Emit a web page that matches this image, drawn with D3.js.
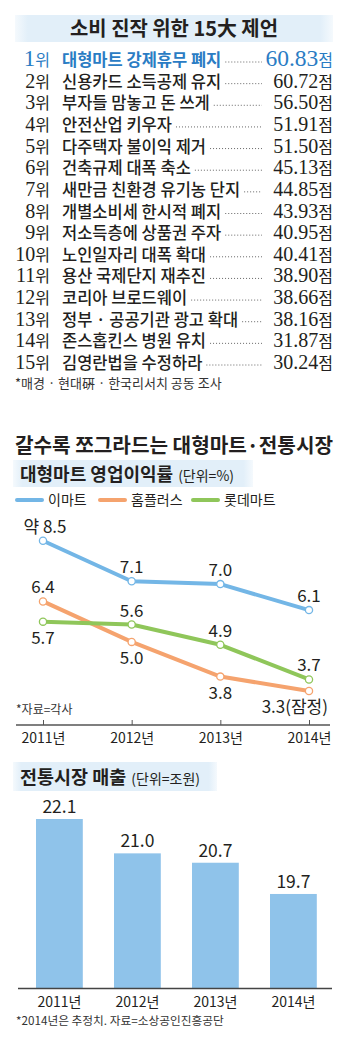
<!DOCTYPE html>
<html>
<head>
<meta charset="utf-8">
<script src="https://cdn.jsdelivr.net/npm/d3@7"></script>
<style>
  html, body { margin: 0; padding: 0; background: #fff; }
  svg { display: block; }
</style>
</head>
<body>
<svg id="chart" width="357" height="1044"></svg>
<script>
// ---------- DATA ----------
const listTitle = "소비 진작 위한 15大 제언";
const ranks = [1,2,3,4,5,6,7,8,9,10,11,12,13,14,15];
const proposals = [
  "대형마트 강제휴무 폐지",
  "신용카드 소득공제 유지",
  "부자들 맘놓고 돈 쓰게",
  "안전산업 키우자",
  "다주택자 불이익 제거",
  "건축규제 대폭 축소",
  "새만금 친환경 유기농 단지",
  "개별소비세 한시적 폐지",
  "저소득층에 상품권 주자",
  "노인일자리 대폭 확대",
  "용산 국제단지 재추진",
  "코리아 브로드웨이",
  "정부 · 공공기관 광고 확대",
  "존스홉킨스 병원 유치",
  "김영란법을 수정하라"
];
const scores = [60.83,60.72,56.50,51.91,51.50,45.13,44.85,43.93,40.95,40.41,38.90,38.66,38.16,31.87,30.24];
const listNote = "*매경 · 현대硏 · 한국리서치 공동 조사";

const section2Title = "갈수록 쪼그라드는 대형마트·전통시장";
const lineTitle = "대형마트 영업이익률";
const lineUnit = "(단위=%)";
const years = ["2011년","2012년","2013년","2014년"];
const seriesNames = ["이마트","홈플러스","롯데마트"];
const emart = [8.5, 7.1, 7.0, 6.1];
const homeplus = [6.4, 5.0, 3.8, 3.3];
const lotte = [5.7, 5.6, 4.9, 3.7];
const emartLabels = ["약 8.5","7.1","7.0","6.1"];
const homeplusLabels = ["6.4","5.0","3.8","3.3(잠정)"];
const lotteLabels = ["5.7","5.6","4.9","3.7"];
const lineNote = "*자료=각사";

const barTitle = "전통시장 매출";
const barUnit = "(단위=조원)";
const marketSales = [22.1, 21.0, 20.7, 19.7];
const barNote = "*2014년은 추정치. 자료=소상공인진흥공단";

// ---------- STYLE ----------
const KR = "'Noto Sans CJK KR', 'Noto Sans', sans-serif";
const SERIF = "'Liberation Serif', 'DejaVu Serif', serif";
const NARROW = "'Liberation Sans Narrow', 'Noto Sans CJK KR', sans-serif";
const INK = "#231f20";
const HILITE = "#2a7cc4";
const colors = ["#73b6e6", "#f5a36e", "#8fc65a"];
const barColor = "#8fc3ea";
const bandColor = "#e2eff9";

const svg = d3.select("#chart");
const defs = svg.append("defs");
function bandGradient(id) {
  const g = defs.append("linearGradient").attr("id", id).attr("x1", "0").attr("x2", "1");
  [[0, 0.35], [0.04, 1], [0.96, 1], [1, 0.35]].forEach(([o, a]) =>
    g.append("stop").attr("offset", o).attr("stop-color", bandColor).attr("stop-opacity", a));
}
bandGradient("bandG");

// ---------- SECTION 1: ranked list ----------
svg.append("rect").attr("x", 15).attr("y", 15).attr("width", 318).attr("height", 27).attr("fill", "url(#bandG)");
svg.append("text").attr("x", 70).attr("y", 36)
  .attr("font-family", KR).attr("font-size", 20).attr("font-weight", 700).attr("fill", INK)
  .attr("textLength", 208).attr("lengthAdjust", "spacingAndGlyphs")
  .text(listTitle);

const yRow = d3.scalePoint().domain(ranks).range([60, 363]);
const rows = svg.append("g").selectAll("g").data(ranks).join("g")
  .attr("transform", d => `translate(0,${yRow(d) + 6})`);

rows.each(function(r, i) {
  const g = d3.select(this);
  const top = r === 1;
  const col = top ? HILITE : INK;
  const rt = g.append("text").attr("x", 50).attr("text-anchor", "end").attr("fill", col);
  rt.append("tspan").attr("font-family", SERIF).attr("font-size", top ? 23 : 20).text(r);
  rt.append("tspan").attr("font-family", KR).attr("font-size", 16).text("위");

  const pt = g.append("text").attr("x", 62).attr("fill", col)
    .attr("font-family", KR).attr("font-size", 16.5).attr("font-weight", top ? 700 : 500)
    .text(proposals[i]);
  const w = pt.node().getComputedTextLength();

  g.append("line").attr("x1", 62 + w + 4).attr("x2", 262).attr("y1", -4).attr("y2", -4)
    .attr("stroke", "#666").attr("stroke-width", 1).attr("stroke-dasharray", "1,2");

  const vt = g.append("text").attr("x", 333).attr("text-anchor", "end").attr("fill", col);
  vt.append("tspan").attr("font-family", SERIF).attr("font-size", top ? 23.5 : 20)
    .text(scores[i].toFixed(2));
  vt.append("tspan").attr("font-family", KR).attr("font-size", 16).text("점");
});

svg.append("text").attr("x", 15).attr("y", 388).attr("font-family", KR).attr("font-size", 13)
  .attr("fill", "#333").text(listNote);

// ---------- SECTION 2: line chart ----------
svg.append("text").attr("x", 15).attr("y", 453).attr("font-family", KR).attr("font-size", 20)
  .attr("font-weight", 700).attr("fill", INK)
  .attr("textLength", 318).attr("lengthAdjust", "spacingAndGlyphs")
  .text(section2Title);

svg.append("rect").attr("x", 13).attr("y", 460).attr("width", 240).attr("height", 27).attr("fill", "url(#bandG)");
const lt = svg.append("text").attr("x", 20).attr("y", 481).attr("fill", INK).attr("font-family", KR);
lt.append("tspan").attr("font-size", 18).attr("font-weight", 700).text(lineTitle);
lt.append("tspan").attr("font-size", 14).attr("dx", 5).text(lineUnit);

// legend
const legX = [17, 100, 193];
const leg = svg.append("g").selectAll("g").data(seriesNames).join("g")
  .attr("transform", (d, i) => `translate(${legX[i]},500)`);
leg.append("line").attr("x1", 0).attr("x2", 25).attr("stroke", (d, i) => colors[i])
  .attr("stroke-width", 4).attr("stroke-linecap", "round");
leg.append("text").attr("x", 31).attr("y", 5).attr("font-family", KR).attr("font-size", 14)
  .attr("fill", INK).text(d => d);

const xL = d3.scalePoint().domain(years).range([43, 309]);
const yL = d3.scaleLinear().domain([0, 10]).range([786.4, 497.4]);

const series = [
  { vals: emart, labels: emartLabels, place: ["up","up","up","up"] },
  { vals: homeplus, labels: homeplusLabels, place: ["up","down","down","down"] },
  { vals: lotte, labels: lotteLabels, place: ["down","up","up","up"] }
];
const lineGen = d3.line().x((d, i) => xL(years[i])).y(d => yL(d));

// axis
const axisY = 725;
svg.append("line").attr("x1", 16).attr("x2", 330).attr("y1", axisY).attr("y2", axisY)
  .attr("stroke", "#555").attr("stroke-width", 1.5);
const axL = svg.append("g").attr("transform", `translate(0,${axisY})`)
  .call(d3.axisBottom(xL).tickSizeInner(-5).tickSizeOuter(0).tickPadding(8));
axL.select(".domain").remove();
axL.selectAll(".tick line").attr("stroke", "#555");
axL.selectAll(".tick text").attr("font-family", NARROW).attr("font-size", 14).attr("fill", INK);

svg.append("text").attr("x", 16).attr("y", 714).attr("font-family", KR).attr("font-size", 12)
  .attr("fill", "#333").text(lineNote);

series.forEach((s, si) => {
  svg.append("path").datum(s.vals).attr("d", lineGen).attr("fill", "none")
    .attr("stroke", colors[si]).attr("stroke-width", 4).attr("stroke-linejoin", "round");
});
series.forEach((s, si) => {
  svg.append("g").selectAll("circle").data(s.vals).join("circle")
    .attr("cx", (d, i) => xL(years[i])).attr("cy", d => yL(d)).attr("r", 3.6)
    .attr("fill", "#fff").attr("stroke", colors[si]).attr("stroke-width", 1.3);
  svg.append("g").selectAll("text").data(s.vals).join("text")
    .attr("x", (d, i) => {
      const x = xL(years[i]);
      if (s.labels[i].length > 5) return x + 19;
      return x + (s.labels[i].startsWith("약") ? 2 : 0);
    })
    .attr("y", (d, i) => yL(d) + (s.place[i] === "up" ? -8 : 22))
    .attr("text-anchor", (d, i) => s.labels[i].length > 5 ? "end" : "middle")
    .attr("font-family", NARROW).attr("font-size", 17).attr("fill", INK)
    .text((d, i) => s.labels[i]);
});

// ---------- SECTION 3: bar chart ----------
svg.append("rect").attr("x", 13).attr("y", 762).attr("width", 204).attr("height", 29).attr("fill", "url(#bandG)");
const bt = svg.append("text").attr("x", 20).attr("y", 784).attr("fill", INK).attr("font-family", KR);
bt.append("tspan").attr("font-size", 18.5).attr("font-weight", 700).text(barTitle);
bt.append("tspan").attr("font-size", 14).attr("dx", 5).text(barUnit);

const xB = d3.scaleBand().domain(years).range([16.5, 336.3]).paddingInner(0.4).paddingOuter(0.25);
const yB = d3.scaleLinear().domain([16.68, 22.1]).range([988.3, 819]);

svg.append("g").selectAll("rect").data(marketSales).join("rect")
  .attr("x", (d, i) => xB(years[i])).attr("width", xB.bandwidth())
  .attr("y", d => yB(d)).attr("height", d => yB.range()[0] - yB(d))
  .attr("fill", barColor);
svg.append("g").selectAll("text").data(marketSales).join("text")
  .attr("x", (d, i) => xB(years[i]) + xB.bandwidth() / 2).attr("y", d => yB(d) - 6)
  .attr("text-anchor", "middle").attr("font-family", NARROW).attr("font-size", 17.5)
  .attr("fill", INK).text(d => d.toFixed(1));

svg.append("line").attr("x1", 18).attr("x2", 332).attr("y1", 988.5).attr("y2", 988.5)
  .attr("stroke", "#444").attr("stroke-width", 1.5);
const axB = svg.append("g").attr("transform", "translate(0,988.5)")
  .call(d3.axisBottom(xB).tickSize(0).tickPadding(9));
axB.select(".domain").remove();
axB.selectAll(".tick text").attr("font-family", NARROW).attr("font-size", 14).attr("fill", INK);

svg.append("text").attr("x", 16).attr("y", 1025).attr("font-family", KR).attr("font-size", 11.7)
  .attr("fill", "#333").text(barNote);
</script>
</body>
</html>
